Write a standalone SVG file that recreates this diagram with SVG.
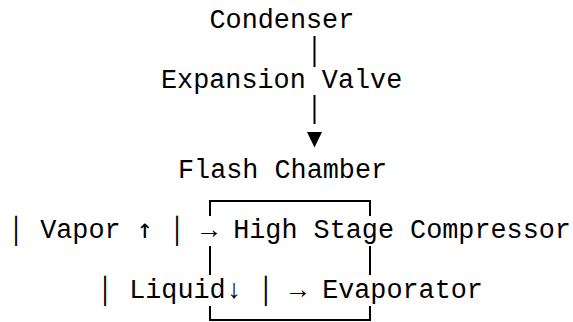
<svg xmlns="http://www.w3.org/2000/svg" width="573" height="322" viewBox="0 0 573 322" xml:space="preserve">
<style>
text { font-family: "Liberation Mono", "Courier New", monospace; font-size: 26.8px; fill: #000; white-space: pre; }
.ar { font-family: "DejaVu Sans Mono", "Liberation Mono", monospace; }
.ln { stroke: #000; stroke-width: 2; fill: none; }
</style>
<rect width="573" height="322" fill="#fff"/>
<g id="connectors">
<line class="ln" x1="314.5" y1="36" x2="314.5" y2="67"/>
<line class="ln" x1="314.5" y1="95" x2="314.5" y2="124"/>
<polygon points="307,132 322,132 314.5,147.5" fill="#000"/>
<path class="ln" d="M210,216 V201 H370 V216"/>
<path class="ln" d="M210,246 V275 M370,246 V275"/>
<path class="ln" d="M210,306 V320 H370 V306"/>
</g>
<g id="condenser"><text x="209.5" y="28">Condenser</text></g>
<g id="expansion-valve"><text x="161" y="88">Expansion Valve</text></g>
<g id="flash-chamber"><text x="178" y="178">Flash Chamber</text></g>
<g id="vapor-row"><text x="8" y="238">│ Vapor <tspan class="ar">↑</tspan> │ → High Stage Compressor</text></g>
<g id="liquid-row"><text x="97" y="298">│ Liquid↓ │ → Evaporator</text></g>
</svg>
